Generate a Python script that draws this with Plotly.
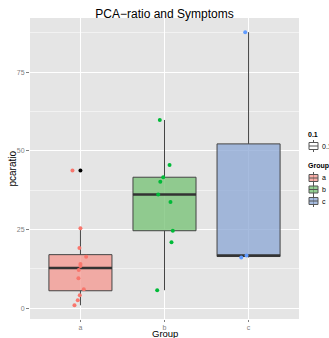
import numpy as np
import plotly.graph_objects as go

# ---- data ----
groups = ["a", "b", "c"]
a_vals = [43.7, 25.4, 19.1, 16.3, 14.0, 13.4, 12.1, 9.5, 6.0, 4.1, 2.5, 0.9]
a_jitter = [-0.095, 0.0, -0.012, 0.068, 0.0, 0.0, -0.02, -0.024, 0.04, -0.008, -0.032, -0.071]
b_vals = [59.8, 45.5, 41.6, 40.2, 36.1, 33.7, 24.6, 20.9, 5.7]
b_jitter = [-0.056, 0.06, -0.015, -0.05, -0.075, 0.071, 0.099, 0.083, -0.087]
c_vals = [87.7, 16.7, 16.1]
c_jitter = [-0.04, -0.024, -0.087]
y_ticks = [0, 25, 50, 75]
width_legend_label = "0.1"

point_colors = ["#F8766D", "#00BA38", "#619CFF"]
fill_colors = ["rgba(244,150,142,0.75)", "rgba(115,192,113,0.75)", "rgba(137,166,212,0.75)"]
BOX_W = 0.75
FONT = "Liberation Sans, Arial, sans-serif"
W, H = 329, 338
ML, MR, MT, MB = 30, 30, 18, 19
PW, PH = W - ML - MR, H - MT - MB


def px_x(px):
    return (px - ML) / PW


def px_y(py):
    return (H - MB - py) / PH


fig = go.Figure()
all_vals = [a_vals, b_vals, c_vals]
all_jit = [a_jitter, b_jitter, c_jitter]

for i, (g, vals) in enumerate(zip(groups, all_vals)):
    v = np.array(vals)
    q1, med, q3 = np.percentile(v, [25, 50, 75])
    iqr = q3 - q1
    inside = v[(v >= q1 - 1.5 * iqr) & (v <= q3 + 1.5 * iqr)]
    lo, hi = inside.min(), inside.max()
    fig.add_trace(go.Box(x=[i], q1=[q1], median=[med], q3=[q3],
                         lowerfence=[lo], upperfence=[hi], width=BOX_W,
                         whiskerwidth=0, fillcolor=fill_colors[i],
                         line=dict(color="#444444", width=1),
                         name=g, showlegend=False, hoverinfo="skip"))
    fig.add_trace(go.Scatter(x=[i - BOX_W / 2, i + BOX_W / 2], y=[med, med],
                             mode="lines", line=dict(color="#333333", width=2.5),
                             showlegend=False, hoverinfo="skip"))
    outl = v[(v < q1 - 1.5 * iqr) | (v > q3 + 1.5 * iqr)]
    if len(outl):
        fig.add_trace(go.Scatter(x=[i] * len(outl), y=outl, mode="markers",
                                 marker=dict(color="black", size=4),
                                 showlegend=False, hoverinfo="skip"))
    fig.add_trace(go.Scatter(x=[i + j for j in all_jit[i]], y=vals, mode="markers",
                             marker=dict(color=point_colors[i], size=4),
                             showlegend=False, hoverinfo="skip"))

# ---- hand-built ggplot-style legends ----
shapes = []
annotations = []


def legend_key(cy, fill):
    kx0, kx1, kc = 309, 318, 313.5
    shapes.append(dict(type="line", xref="paper", yref="paper",
                       x0=px_x(kc), x1=px_x(kc), y0=px_y(cy - 6), y1=px_y(cy + 6),
                       line=dict(color="#555555", width=1)))
    shapes.append(dict(type="rect", xref="paper", yref="paper",
                       x0=px_x(kx0), x1=px_x(kx1), y0=px_y(cy - 3.5), y1=px_y(cy + 3.5),
                       fillcolor=fill, line=dict(color="#555555", width=1)))
    shapes.append(dict(type="line", xref="paper", yref="paper",
                       x0=px_x(kx0), x1=px_x(kx1), y0=px_y(cy), y1=px_y(cy),
                       line=dict(color="#555555", width=1)))


def legend_text(px, py, text, bold=False):
    annotations.append(dict(xref="paper", yref="paper", x=px_x(px), y=px_y(py),
                            xanchor="left", yanchor="middle", showarrow=False,
                            text=("<b>%s</b>" % text) if bold else text,
                            font=dict(family=FONT, size=7, color="black")))


legend_text(306, 134, width_legend_label, bold=True)
legend_key(146, "white")
legend_text(320, 146, width_legend_label)
legend_text(306, 166, "Group", bold=True)
for k, (g, cy) in enumerate(zip(groups, [178, 189.5, 201])):
    legend_key(cy, fill_colors[k])
    legend_text(320, cy, g)

# axis titles
annotations.append(dict(xref="paper", yref="paper", x=0.5, y=px_y(333.5),
                        xanchor="center", yanchor="middle", showarrow=False,
                        text="Group", font=dict(family=FONT, size=9.5, color="black")))
annotations.append(dict(xref="paper", yref="paper", x=px_x(12), y=0.5,
                        xanchor="center", yanchor="middle", showarrow=False,
                        textangle=-90, text="pcaratio",
                        font=dict(family=FONT, size=10, color="black")))

fig.update_layout(
    width=W, height=H,
    margin=dict(l=ML, r=MR, t=MT, b=MB, autoexpand=False),
    paper_bgcolor="white", plot_bgcolor="#E5E5E5",
    font=dict(family=FONT, size=7, color="#7F7F7F"),
    title=dict(text="PCA\u2212ratio and Symptoms", x=0.5, xanchor="center",
               y=1 - 14 / H, yanchor="middle",
               font=dict(family=FONT, size=12, color="black")),
    showlegend=False,
    boxmode="overlay",
    shapes=shapes,
    annotations=annotations,
)
fig.update_xaxes(range=[-0.6, 2.6], tickvals=[0, 1, 2], ticktext=groups,
                 showgrid=True, gridcolor="white", gridwidth=1, zeroline=False,
                 ticks="outside", ticklen=2, tickcolor="#7F7F7F")
fig.update_yaxes(range=[-3.45, 92.2], tickvals=y_ticks,
                 showgrid=True, gridcolor="white", gridwidth=1, zeroline=False,
                 ticks="outside", ticklen=3, tickcolor="#7F7F7F",
                 minor=dict(tickvals=[12.5, 37.5, 62.5, 87.5], showgrid=True,
                            gridcolor="#F2F2F2", gridwidth=0.6, ticks=""))

fig.write_html("out.html", config={"displayModeBar": False},
               post_script="document.body.style.margin='0';document.body.style.overflow='hidden';")
